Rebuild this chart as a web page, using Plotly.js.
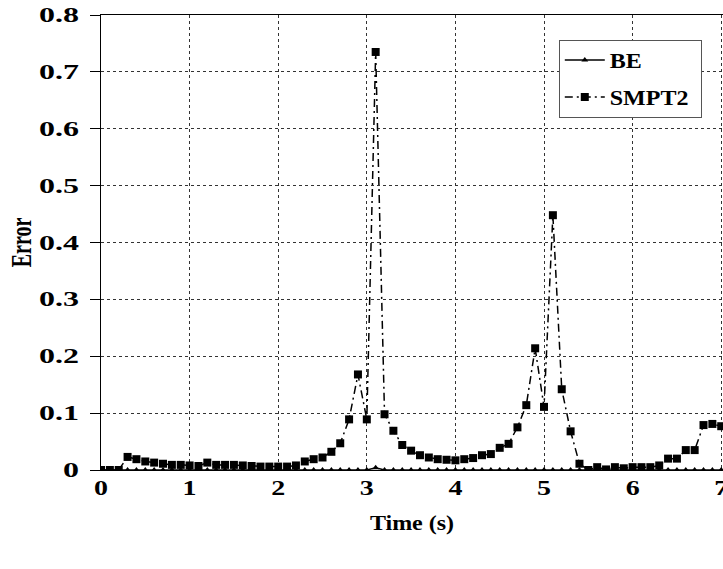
<!DOCTYPE html>
<html>
<head>
<meta charset="utf-8">
<script src="https://cdn.plot.ly/plotly-3.0.1.min.js"></script>
<style>
html,body{margin:0;padding:0;overflow:hidden;background:#fff;}
#chart{width:723px;height:569px;}
</style>
</head>
<body>
<div id="chart"></div>
<script>
// Time axis (s), 0.1 s step
const time = [0.0,0.1,0.2,0.3,0.4,0.5,0.6,0.7,0.8,0.9,
  1.0,1.1,1.2,1.3,1.4,1.5,1.6,1.7,1.8,1.9,
  2.0,2.1,2.2,2.3,2.4,2.5,2.6,2.7,2.8,2.9,
  3.0,3.1,3.2,3.3,3.4,3.5,3.6,3.7,3.8,3.9,
  4.0,4.1,4.2,4.3,4.4,4.5,4.6,4.7,4.8,4.9,
  5.0,5.1,5.2,5.3,5.4,5.5,5.6,5.7,5.8,5.9,
  6.0,6.1,6.2,6.3,6.4,6.5,6.6,6.7,6.8,6.9,7.0];

const smpt2 = [0,0,0,0.023,0.019,0.015,0.013,0.011,0.009,0.009,
  0.008,0.007,0.013,0.009,0.009,0.009,0.008,0.007,0.006,0.006,
  0.006,0.006,0.008,0.015,0.019,0.022,0.032,0.047,0.089,0.168,
  0.089,0.735,0.098,0.069,0.044,0.034,0.026,0.022,0.019,0.018,
  0.017,0.019,0.021,0.026,0.028,0.039,0.046,0.075,0.114,0.214,
  0.111,0.448,0.142,0.068,0.011,0.0,0.005,0.001,0.005,0.003,
  0.005,0.005,0.005,0.008,0.020,0.020,0.035,0.035,0.079,0.081,0.077];

const be = [0,0,0,0,0,0,0,0,0,0,
  0,0,0,0,0,0,0,0,0,0,
  0,0,0,0,0,0,0,0,0,0,
  0,0.004,0,0,0,0,0,0,0,0,
  0,0,0,0,0,0,0,0,0,0,
  0,0,0,0,0,0,0,0,0,0,
  0,0,0,0,0,0,0,0,0,0,0];

const seriesNames = ['BE', 'SMPT2'];
const xTicks = [0,1,2,3,4,5,6,7];
const yTicks = [0,0.1,0.2,0.3,0.4,0.5,0.6,0.7,0.8];
const yTickText = ['0','0.1','0.2','0.3','0.4','0.5','0.6','0.7','0.8'];

const font = {family:'"Liberation Serif", "Times New Roman", serif', size:20, color:'#000', weight:'bold'};
const nb = '\u00a0';

const traces = [
  {x: time, y: be, name: '<b>' + seriesNames[0] + '</b>', legendgroup:'a',
   type: 'scatter', mode: 'lines+markers',
   line: {color:'#000', width:1.5, dash:'solid'},
   marker: {symbol:'triangle-up', size:6, color:'#000'}},
  {x: time, y: smpt2, name: '<b>' + seriesNames[1] + '</b>' + nb + nb + nb + nb, legendgroup:'b',
   type: 'scatter', mode: 'lines+markers',
   line: {color:'#000', width:1.5, dash:'8px,4px,2px,4px'},
   marker: {symbol:'square', size:8, color:'#000'}}
];

const layout = {
  width: 723, height: 569,
  margin: {l:101, r:0, t:15, b:99},
  paper_bgcolor:'#fff', plot_bgcolor:'#fff',
  font: font,
  showlegend: true,
  legend: {x:0.736, y:0.946, xanchor:'left', yanchor:'top',
    bgcolor:'#fff', bordercolor:'#555', borderwidth:1,
    font: font, traceorder:'grouped', tracegroupgap: 8, itemwidth: 40},
  xaxis: {
    range:[0,7.02], tickvals:xTicks, ticktext:xTicks.map(String),
    showgrid:true, gridcolor:'#333', gridwidth:1, griddash:'3px,3px',
    showline:true, linecolor:'#000', linewidth:1, mirror:true,
    zeroline:false, ticks:'', tickfont: font, ticklabeloverflow:'allow',
    title:{text:'<b>Time (s)</b>', font: font, standoff: 18}
  },
  yaxis: {
    range:[0,0.8], tickvals:yTicks, ticktext:yTickText,
    showgrid:true, gridcolor:'#333', gridwidth:1, griddash:'3px,3px',
    showline:true, linecolor:'#000', linewidth:1,
    zeroline:false, ticks:'outside', ticklen:10, tickcolor:'#000', tickfont: font,
    ticklabelstandoff: 7,
    title:{text:'<b>Error</b>', font: font, standoff: 20}
  }
};

function stretch(sel, s, rotated) {
  document.querySelectorAll(sel).forEach(function(t) {
    const bb = t.getBBox();
    const T = t.getAttribute('transform') || '';
    if (rotated) {
      const py = bb.y + bb.height / 2;
      t.setAttribute('transform', T + ' translate(0,' + py + ') scale(1,' + s + ') translate(0,' + (-py) + ')');
    } else {
      const anchor = t.getAttribute('text-anchor') || 'start';
      let px = bb.x;
      if (anchor === 'end') px = bb.x + bb.width;
      else if (anchor === 'middle') px = bb.x + bb.width / 2;
      t.setAttribute('transform', T + ' translate(' + px + ',0) scale(' + s + ',1) translate(' + (-px) + ',0)');
    }
  });
}

Plotly.newPlot('chart', traces, layout, {displayModeBar:false, staticPlot:true}).then(function() {
  stretch('.ytick text', 1.6, false);
  stretch('.xtick text', 1.4, false);
  stretch('.g-xtitle text', 1.2, false);
  stretch('.g-ytitle text', 1.5, true);
  stretch('.legendtext', 1.2, false);
});
</script>
</body>
</html>
